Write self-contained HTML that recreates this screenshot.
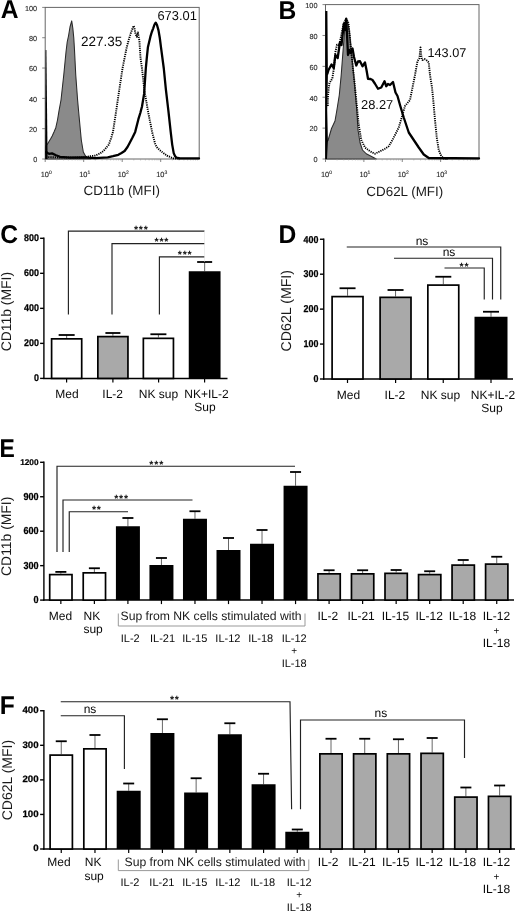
<!DOCTYPE html>
<html><head><meta charset="utf-8"><title>Figure</title>
<style>
html,body{margin:0;padding:0;background:#fff;}
svg{display:block;font-family:"Liberation Sans", sans-serif;will-change:transform;text-rendering:geometricPrecision;}
</style></head><body>
<svg width="520" height="913" viewBox="0 0 520 913">
<rect width="520" height="913" fill="#fff"/>
<text transform="translate(0.8,18.3) scale(0.955,1)" font-size="25.8" font-weight="bold" fill="#000">A</text>
<polygon points="45.5,159 45.5,146 47.5,144 50.5,139 52.2,136 54,132 55.8,127.7 57.5,120 59,110.8 61,100 63.75,75 66,52 67.2,42 68.5,36 70,27 71.7,20.9 72.8,28 73.75,37.5 74.5,50 75.75,75 77.6,100 78.5,110 79.7,123 81.3,140 83.3,152 85.5,156 88,158 91,159" fill="#8a8a8a" stroke="#2a2a2a" stroke-width="1.05" stroke-linejoin="round"/>
<rect x="45.2" y="7.4" width="154.0" height="151.6" fill="none" stroke="#666" stroke-width="1"/>
<line x1="42.2" y1="7.4" x2="45.2" y2="7.4" stroke="#666" stroke-width="0.8" />
<text x="37.2" y="10.7" font-size="7.3" text-anchor="end" font-weight="normal" fill="#2a2a2a" stroke="#2a2a2a" stroke-width="0.12">100</text>
<line x1="42.2" y1="37.72" x2="45.2" y2="37.72" stroke="#666" stroke-width="0.8" />
<text x="37.2" y="41.019999999999996" font-size="7.3" text-anchor="end" font-weight="normal" fill="#2a2a2a" stroke="#2a2a2a" stroke-width="0.12">80</text>
<line x1="42.2" y1="68.04" x2="45.2" y2="68.04" stroke="#666" stroke-width="0.8" />
<text x="37.2" y="71.34" font-size="7.3" text-anchor="end" font-weight="normal" fill="#2a2a2a" stroke="#2a2a2a" stroke-width="0.12">60</text>
<line x1="42.2" y1="98.36" x2="45.2" y2="98.36" stroke="#666" stroke-width="0.8" />
<text x="37.2" y="101.66" font-size="7.3" text-anchor="end" font-weight="normal" fill="#2a2a2a" stroke="#2a2a2a" stroke-width="0.12">40</text>
<line x1="42.2" y1="128.68" x2="45.2" y2="128.68" stroke="#666" stroke-width="0.8" />
<text x="37.2" y="131.98000000000002" font-size="7.3" text-anchor="end" font-weight="normal" fill="#2a2a2a" stroke="#2a2a2a" stroke-width="0.12">20</text>
<line x1="42.2" y1="159.0" x2="45.2" y2="159.0" stroke="#666" stroke-width="0.8" />
<text x="37.2" y="162.3" font-size="7.3" text-anchor="end" font-weight="normal" fill="#2a2a2a" stroke="#2a2a2a" stroke-width="0.12">0</text>
<line x1="45.2" y1="159" x2="45.2" y2="162" stroke="#666" stroke-width="0.8" />
<line x1="56.78965483306328" y1="159" x2="56.78965483306328" y2="160.5" stroke="#999" stroke-width="0.5" />
<line x1="63.569168306707006" y1="159" x2="63.569168306707006" y2="160.5" stroke="#999" stroke-width="0.5" />
<line x1="68.37930966612656" y1="159" x2="68.37930966612656" y2="160.5" stroke="#999" stroke-width="0.5" />
<line x1="72.11034516693672" y1="159" x2="72.11034516693672" y2="160.5" stroke="#999" stroke-width="0.5" />
<line x1="75.15882313977028" y1="159" x2="75.15882313977028" y2="160.5" stroke="#999" stroke-width="0.5" />
<line x1="77.73627454054889" y1="159" x2="77.73627454054889" y2="160.5" stroke="#999" stroke-width="0.5" />
<line x1="79.96896449918984" y1="159" x2="79.96896449918984" y2="160.5" stroke="#999" stroke-width="0.5" />
<line x1="81.93833661341401" y1="159" x2="81.93833661341401" y2="160.5" stroke="#999" stroke-width="0.5" />
<text x="40.7" y="177" font-size="7.4" fill="#2a2a2a" stroke="#2a2a2a" stroke-width="0.12">10<tspan dy="-3.2" font-size="5">0</tspan></text>
<line x1="83.7" y1="159" x2="83.7" y2="162" stroke="#666" stroke-width="0.8" />
<line x1="95.28965483306328" y1="159" x2="95.28965483306328" y2="160.5" stroke="#999" stroke-width="0.5" />
<line x1="102.06916830670701" y1="159" x2="102.06916830670701" y2="160.5" stroke="#999" stroke-width="0.5" />
<line x1="106.87930966612656" y1="159" x2="106.87930966612656" y2="160.5" stroke="#999" stroke-width="0.5" />
<line x1="110.61034516693672" y1="159" x2="110.61034516693672" y2="160.5" stroke="#999" stroke-width="0.5" />
<line x1="113.65882313977028" y1="159" x2="113.65882313977028" y2="160.5" stroke="#999" stroke-width="0.5" />
<line x1="116.23627454054889" y1="159" x2="116.23627454054889" y2="160.5" stroke="#999" stroke-width="0.5" />
<line x1="118.46896449918984" y1="159" x2="118.46896449918984" y2="160.5" stroke="#999" stroke-width="0.5" />
<line x1="120.43833661341401" y1="159" x2="120.43833661341401" y2="160.5" stroke="#999" stroke-width="0.5" />
<text x="79.2" y="177" font-size="7.4" fill="#2a2a2a" stroke="#2a2a2a" stroke-width="0.12">10<tspan dy="-3.2" font-size="5">1</tspan></text>
<line x1="122.2" y1="159" x2="122.2" y2="162" stroke="#666" stroke-width="0.8" />
<line x1="133.78965483306328" y1="159" x2="133.78965483306328" y2="160.5" stroke="#999" stroke-width="0.5" />
<line x1="140.569168306707" y1="159" x2="140.569168306707" y2="160.5" stroke="#999" stroke-width="0.5" />
<line x1="145.37930966612655" y1="159" x2="145.37930966612655" y2="160.5" stroke="#999" stroke-width="0.5" />
<line x1="149.11034516693672" y1="159" x2="149.11034516693672" y2="160.5" stroke="#999" stroke-width="0.5" />
<line x1="152.15882313977028" y1="159" x2="152.15882313977028" y2="160.5" stroke="#999" stroke-width="0.5" />
<line x1="154.7362745405489" y1="159" x2="154.7362745405489" y2="160.5" stroke="#999" stroke-width="0.5" />
<line x1="156.96896449918984" y1="159" x2="156.96896449918984" y2="160.5" stroke="#999" stroke-width="0.5" />
<line x1="158.938336613414" y1="159" x2="158.938336613414" y2="160.5" stroke="#999" stroke-width="0.5" />
<text x="117.7" y="177" font-size="7.4" fill="#2a2a2a" stroke="#2a2a2a" stroke-width="0.12">10<tspan dy="-3.2" font-size="5">2</tspan></text>
<line x1="160.7" y1="159" x2="160.7" y2="162" stroke="#666" stroke-width="0.8" />
<line x1="172.28965483306325" y1="159" x2="172.28965483306325" y2="160.5" stroke="#999" stroke-width="0.5" />
<line x1="179.06916830670698" y1="159" x2="179.06916830670698" y2="160.5" stroke="#999" stroke-width="0.5" />
<line x1="183.87930966612655" y1="159" x2="183.87930966612655" y2="160.5" stroke="#999" stroke-width="0.5" />
<line x1="187.61034516693672" y1="159" x2="187.61034516693672" y2="160.5" stroke="#999" stroke-width="0.5" />
<line x1="190.65882313977028" y1="159" x2="190.65882313977028" y2="160.5" stroke="#999" stroke-width="0.5" />
<line x1="193.2362745405489" y1="159" x2="193.2362745405489" y2="160.5" stroke="#999" stroke-width="0.5" />
<line x1="195.4689644991898" y1="159" x2="195.4689644991898" y2="160.5" stroke="#999" stroke-width="0.5" />
<line x1="197.43833661341398" y1="159" x2="197.43833661341398" y2="160.5" stroke="#999" stroke-width="0.5" />
<text x="156.2" y="177" font-size="7.4" fill="#2a2a2a" stroke="#2a2a2a" stroke-width="0.12">10<tspan dy="-3.2" font-size="5">3</tspan></text>
<text x="121.7" y="194.6" font-size="13.4" text-anchor="middle" font-weight="normal" fill="#1a1a1a" >CD11b (MFI)</text>
<polyline points="46,157 60,157.5 80,157.5 86,157 90,156.3 95,155.6 100,153.5 103.5,150.9 106.5,147.5 108.8,144.6 111,138.5 113,131.9 116.2,110.8 119.3,89.6 122.5,68.5 126.7,47.3 129,39 131,32.5 132.5,28.5 133.7,25.8 134.6,29 135.2,32.5 136.2,35.5 136.9,36.7 137.5,34 137.9,32.5 138.6,36 139.4,41 140.5,57.9 142,68.5 144.3,89.6 147.9,110.8 152.1,131.9 155.3,144.6 157.5,148 160.6,150.9 166.9,155.6 173.3,158.4 180,158.8" fill="none" stroke="#000" stroke-width="1.9" stroke-dasharray="1.2 1.0" stroke-linejoin="round"/>
<polygon points="45.2,159 45.6,50 46.4,50 47.6,159" fill="#000"/>
<polyline points="46.2,152 47.5,153 49,153.8 52,153.4 56,155.2 60,156.8 70,157.6 84,157.4 95,158.2 107.7,157.3 113,156.2 118.3,154.8 121.5,153 124.6,151 127.5,147 129.9,142.5 132.5,137.5 135.2,131.9 138.4,119.2 140.3,113 142,106.5 144.1,93.9 145.1,79 145.8,68.5 146.8,57.9 147.9,47.3 150.4,36.7 151.8,32 153.2,28.3 154.5,24.5 155.7,22.6 157,25 158.5,30.4 159.8,38 161,47.3 163.8,68.5 165.9,89.6 168.4,110.8 170.7,131.9 172.2,144.6 173.7,153.1 175,156 176.4,157.7 180,158.4 199,158.4" fill="none" stroke="#000" stroke-width="2.3" stroke-linejoin="round" stroke-linecap="round"/>
<text x="81" y="46" font-size="13.5" text-anchor="start" font-weight="normal" fill="#0a0a0a" >227.35</text>
<text x="157.4" y="20.3" font-size="12.9" text-anchor="start" font-weight="normal" fill="#0a0a0a" >673.01</text>
<text transform="translate(278.5,18.5) scale(0.955,1)" font-size="25.8" font-weight="bold" fill="#000">B</text>
<polygon points="326,159 326,142 328,140.5 331.5,128.5 335,121 336.9,110 339.3,95 341.2,75 343.1,50 344.7,30 346.25,18.75 348,24 349.5,32 351.25,50 353.75,75 355.5,95 356.75,110 358,130 360,142.5 362.5,150 366.25,153.75 372.5,157 376.25,159" fill="#8a8a8a" stroke="#2a2a2a" stroke-width="1.05" stroke-linejoin="round"/>
<rect x="325.5" y="4.6" width="153.5" height="154.4" fill="none" stroke="#666" stroke-width="1"/>
<line x1="322.5" y1="4.6" x2="325.5" y2="4.6" stroke="#666" stroke-width="0.8" />
<text x="317.5" y="7.8999999999999995" font-size="7.3" text-anchor="end" font-weight="normal" fill="#2a2a2a" stroke="#2a2a2a" stroke-width="0.12">100</text>
<line x1="322.5" y1="35.480000000000004" x2="325.5" y2="35.480000000000004" stroke="#666" stroke-width="0.8" />
<text x="317.5" y="38.78" font-size="7.3" text-anchor="end" font-weight="normal" fill="#2a2a2a" stroke="#2a2a2a" stroke-width="0.12">80</text>
<line x1="322.5" y1="66.36" x2="325.5" y2="66.36" stroke="#666" stroke-width="0.8" />
<text x="317.5" y="69.66" font-size="7.3" text-anchor="end" font-weight="normal" fill="#2a2a2a" stroke="#2a2a2a" stroke-width="0.12">60</text>
<line x1="322.5" y1="97.24000000000001" x2="325.5" y2="97.24000000000001" stroke="#666" stroke-width="0.8" />
<text x="317.5" y="100.54" font-size="7.3" text-anchor="end" font-weight="normal" fill="#2a2a2a" stroke="#2a2a2a" stroke-width="0.12">40</text>
<line x1="322.5" y1="128.12" x2="325.5" y2="128.12" stroke="#666" stroke-width="0.8" />
<text x="317.5" y="131.42000000000002" font-size="7.3" text-anchor="end" font-weight="normal" fill="#2a2a2a" stroke="#2a2a2a" stroke-width="0.12">20</text>
<line x1="322.5" y1="159.0" x2="325.5" y2="159.0" stroke="#666" stroke-width="0.8" />
<text x="317.5" y="162.3" font-size="7.3" text-anchor="end" font-weight="normal" fill="#2a2a2a" stroke="#2a2a2a" stroke-width="0.12">0</text>
<line x1="325.5" y1="159" x2="325.5" y2="162" stroke="#666" stroke-width="0.8" />
<line x1="337.05202608360526" y1="159" x2="337.05202608360526" y2="160.5" stroke="#999" stroke-width="0.5" />
<line x1="343.80952814986705" y1="159" x2="343.80952814986705" y2="160.5" stroke="#999" stroke-width="0.5" />
<line x1="348.60405216721057" y1="159" x2="348.60405216721057" y2="160.5" stroke="#999" stroke-width="0.5" />
<line x1="352.32297391639474" y1="159" x2="352.32297391639474" y2="160.5" stroke="#999" stroke-width="0.5" />
<line x1="355.3615542334723" y1="159" x2="355.3615542334723" y2="160.5" stroke="#999" stroke-width="0.5" />
<line x1="357.9306372855471" y1="159" x2="357.9306372855471" y2="160.5" stroke="#999" stroke-width="0.5" />
<line x1="360.1560782508158" y1="159" x2="360.1560782508158" y2="160.5" stroke="#999" stroke-width="0.5" />
<line x1="362.1190562997341" y1="159" x2="362.1190562997341" y2="160.5" stroke="#999" stroke-width="0.5" />
<text x="321.0" y="177" font-size="7.4" fill="#2a2a2a" stroke="#2a2a2a" stroke-width="0.12">10<tspan dy="-3.2" font-size="5">0</tspan></text>
<line x1="363.875" y1="159" x2="363.875" y2="162" stroke="#666" stroke-width="0.8" />
<line x1="375.42702608360526" y1="159" x2="375.42702608360526" y2="160.5" stroke="#999" stroke-width="0.5" />
<line x1="382.18452814986705" y1="159" x2="382.18452814986705" y2="160.5" stroke="#999" stroke-width="0.5" />
<line x1="386.97905216721057" y1="159" x2="386.97905216721057" y2="160.5" stroke="#999" stroke-width="0.5" />
<line x1="390.69797391639474" y1="159" x2="390.69797391639474" y2="160.5" stroke="#999" stroke-width="0.5" />
<line x1="393.7365542334723" y1="159" x2="393.7365542334723" y2="160.5" stroke="#999" stroke-width="0.5" />
<line x1="396.3056372855471" y1="159" x2="396.3056372855471" y2="160.5" stroke="#999" stroke-width="0.5" />
<line x1="398.5310782508158" y1="159" x2="398.5310782508158" y2="160.5" stroke="#999" stroke-width="0.5" />
<line x1="400.4940562997341" y1="159" x2="400.4940562997341" y2="160.5" stroke="#999" stroke-width="0.5" />
<text x="359.375" y="177" font-size="7.4" fill="#2a2a2a" stroke="#2a2a2a" stroke-width="0.12">10<tspan dy="-3.2" font-size="5">1</tspan></text>
<line x1="402.25" y1="159" x2="402.25" y2="162" stroke="#666" stroke-width="0.8" />
<line x1="413.80202608360526" y1="159" x2="413.80202608360526" y2="160.5" stroke="#999" stroke-width="0.5" />
<line x1="420.55952814986705" y1="159" x2="420.55952814986705" y2="160.5" stroke="#999" stroke-width="0.5" />
<line x1="425.35405216721057" y1="159" x2="425.35405216721057" y2="160.5" stroke="#999" stroke-width="0.5" />
<line x1="429.07297391639474" y1="159" x2="429.07297391639474" y2="160.5" stroke="#999" stroke-width="0.5" />
<line x1="432.1115542334723" y1="159" x2="432.1115542334723" y2="160.5" stroke="#999" stroke-width="0.5" />
<line x1="434.6806372855471" y1="159" x2="434.6806372855471" y2="160.5" stroke="#999" stroke-width="0.5" />
<line x1="436.9060782508158" y1="159" x2="436.9060782508158" y2="160.5" stroke="#999" stroke-width="0.5" />
<line x1="438.8690562997341" y1="159" x2="438.8690562997341" y2="160.5" stroke="#999" stroke-width="0.5" />
<text x="397.75" y="177" font-size="7.4" fill="#2a2a2a" stroke="#2a2a2a" stroke-width="0.12">10<tspan dy="-3.2" font-size="5">2</tspan></text>
<line x1="440.625" y1="159" x2="440.625" y2="162" stroke="#666" stroke-width="0.8" />
<line x1="452.17702608360526" y1="159" x2="452.17702608360526" y2="160.5" stroke="#999" stroke-width="0.5" />
<line x1="458.93452814986705" y1="159" x2="458.93452814986705" y2="160.5" stroke="#999" stroke-width="0.5" />
<line x1="463.72905216721057" y1="159" x2="463.72905216721057" y2="160.5" stroke="#999" stroke-width="0.5" />
<line x1="467.44797391639474" y1="159" x2="467.44797391639474" y2="160.5" stroke="#999" stroke-width="0.5" />
<line x1="470.4865542334723" y1="159" x2="470.4865542334723" y2="160.5" stroke="#999" stroke-width="0.5" />
<line x1="473.0556372855471" y1="159" x2="473.0556372855471" y2="160.5" stroke="#999" stroke-width="0.5" />
<line x1="475.2810782508158" y1="159" x2="475.2810782508158" y2="160.5" stroke="#999" stroke-width="0.5" />
<line x1="477.2440562997341" y1="159" x2="477.2440562997341" y2="160.5" stroke="#999" stroke-width="0.5" />
<text x="436.125" y="177" font-size="7.4" fill="#2a2a2a" stroke="#2a2a2a" stroke-width="0.12">10<tspan dy="-3.2" font-size="5">3</tspan></text>
<text x="404.8" y="195.6" font-size="13.4" text-anchor="middle" font-weight="normal" fill="#1a1a1a" >CD62L (MFI)</text>
<polyline points="327.8,106 328,96 328.6,89 329.5,83 332.3,78.5 333.8,69 335.4,52 337,44.6 339.2,45.4 341.5,34 343.8,23 346.2,18.5 348.5,23 350,38.5 351.5,54 353,69 354.6,83 356.25,100 358.75,125 361.25,140 365,147.5 370,151.25 375,153.75 380,151.25 385,148.75 388.75,146.25 392.5,140 396.25,132.5 398.75,127.5 401,120 405,106 407.5,103 410,100 412.5,87.5 415,75 417.5,61 419.5,58 420.5,47.5 421.5,58 422.5,60 424.5,59 426.25,60 428.75,62.5 430,75 432,87.5 433.25,100 435,120 436.75,137.5 438.75,150 441.25,156 443.75,158.5 448,159" fill="none" stroke="#000" stroke-width="1.9" stroke-dasharray="1.2 1.0" stroke-linejoin="round"/>
<polygon points="325.2,159 325.2,11 327.4,11 327.9,76 327.2,110 327.9,141 327,159" fill="#000"/>
<polyline points="327.2,74 327.6,73 328.5,70 331.5,64.5 333.8,68 335.4,55 337.7,58 340,42 341.5,45 343.8,24 344.8,30 346.2,19 347.2,38 348,55 349.5,50 350.5,53 352.5,48.5 354,57 356.25,65.5 358,61.5 360,61.25 362.5,66.25 365,62.5 366.5,70 368,78.75 370.5,79 372.5,80 375,83.75 378,88.75 381.25,87.5 384.5,81.25 386.25,86.25 388,84 390,85 393,82 395.5,92.5 397.5,96 400,105 403.75,117.5 408.75,132.5 413.75,140 418.75,147.5 423.75,154.5 428.75,158 479,158.4" fill="none" stroke="#000" stroke-width="2.3" stroke-linejoin="round" stroke-linecap="round"/>
<text x="361" y="109" font-size="12.9" text-anchor="start" font-weight="normal" fill="#0a0a0a" >28.27</text>
<text x="427.5" y="57" font-size="12.7" text-anchor="start" font-weight="normal" fill="#0a0a0a" >143.07</text>
<text transform="translate(0.3,242.5) scale(0.955,1)" font-size="25.8" font-weight="bold" fill="#000">C</text>
<line x1="43.9" y1="237.60000000000002" x2="43.9" y2="379.09999999999997" stroke="#000" stroke-width="1.4" />
<line x1="43.199999999999996" y1="378.4" x2="227.5" y2="378.4" stroke="#000" stroke-width="1.5" />
<line x1="40.1" y1="238.3" x2="43.9" y2="238.3" stroke="#000" stroke-width="1.4" />
<text transform="translate(39.0,240.8) scale(0.91,1)" font-size="9.8" font-weight="bold" text-anchor="end" fill="#000" stroke="#000" stroke-width="0.25">800</text>
<line x1="40.1" y1="273.325" x2="43.9" y2="273.325" stroke="#000" stroke-width="1.4" />
<text transform="translate(39.0,275.825) scale(0.91,1)" font-size="9.8" font-weight="bold" text-anchor="end" fill="#000" stroke="#000" stroke-width="0.25">600</text>
<line x1="40.1" y1="308.35" x2="43.9" y2="308.35" stroke="#000" stroke-width="1.4" />
<text transform="translate(39.0,310.85) scale(0.91,1)" font-size="9.8" font-weight="bold" text-anchor="end" fill="#000" stroke="#000" stroke-width="0.25">400</text>
<line x1="40.1" y1="343.375" x2="43.9" y2="343.375" stroke="#000" stroke-width="1.4" />
<text transform="translate(39.0,345.875) scale(0.91,1)" font-size="9.8" font-weight="bold" text-anchor="end" fill="#000" stroke="#000" stroke-width="0.25">200</text>
<line x1="40.1" y1="378.4" x2="43.9" y2="378.4" stroke="#000" stroke-width="1.4" />
<text transform="translate(39.0,380.9) scale(0.91,1)" font-size="9.8" font-weight="bold" text-anchor="end" fill="#000" stroke="#000" stroke-width="0.25">0</text>
<line x1="66.6" y1="378.4" x2="66.6" y2="382.4" stroke="#000" stroke-width="1.2" />
<line x1="112.9" y1="378.4" x2="112.9" y2="382.4" stroke="#000" stroke-width="1.2" />
<line x1="158.6" y1="378.4" x2="158.6" y2="382.4" stroke="#000" stroke-width="1.2" />
<line x1="204.6" y1="378.4" x2="204.6" y2="382.4" stroke="#000" stroke-width="1.2" />
<text transform="translate(11,311.6) rotate(-90)" font-size="13.9" text-anchor="middle" fill="#1a1a1a">CD11b (MFI)</text>
<line x1="66.65" y1="335" x2="66.65" y2="338" stroke="#555" stroke-width="0.9" />
<line x1="58.650000000000006" y1="335" x2="74.65" y2="335" stroke="#000" stroke-width="1.8" />
<rect x="51.6" y="338.85" width="30.1" height="39.549999999999976" fill="#fff" stroke="#000" stroke-width="1.7"/>
<line x1="112.9" y1="333" x2="112.9" y2="335.75" stroke="#555" stroke-width="0.9" />
<line x1="105.4" y1="333" x2="120.4" y2="333" stroke="#000" stroke-width="1.8" />
<rect x="97.85" y="336.6" width="30.1" height="41.799999999999976" fill="#a9a9a9" stroke="#000" stroke-width="1.7"/>
<line x1="158.4" y1="334.25" x2="158.4" y2="337.5" stroke="#555" stroke-width="0.9" />
<line x1="150.4" y1="334.25" x2="166.4" y2="334.25" stroke="#000" stroke-width="1.8" />
<rect x="143.35" y="338.35" width="30.1" height="40.049999999999976" fill="#fff" stroke="#000" stroke-width="1.7"/>
<line x1="204.65" y1="262" x2="204.65" y2="271.25" stroke="#555" stroke-width="0.9" />
<line x1="197.15" y1="262" x2="212.15" y2="262" stroke="#000" stroke-width="1.8" />
<rect x="188.75" y="271.25" width="31.8" height="107.14999999999998" fill="#000"/>
<polyline points="68.4,314.5 68.4,231.1 204.5,231.1" fill="none" stroke="#222" stroke-width="1.15"/>
<polyline points="112,314.5 112,243.6 204.5,243.6" fill="none" stroke="#222" stroke-width="1.15"/>
<polyline points="159.4,314.5 159.4,256.9 204.5,256.9" fill="none" stroke="#222" stroke-width="1.15"/>
<line x1="204.5" y1="230.75" x2="204.5" y2="262" stroke="#ddd" stroke-width="0.5" />
<text x="141.3" y="233.0" font-size="10.5" text-anchor="middle" font-weight="bold" fill="#111" letter-spacing="0.8">***</text>
<text x="161.9" y="244.70000000000002" font-size="10.5" text-anchor="middle" font-weight="bold" fill="#111" letter-spacing="0.8">***</text>
<text x="185.1" y="258.2" font-size="10.5" text-anchor="middle" font-weight="bold" fill="#111" letter-spacing="0.8">***</text>
<text x="67" y="398.2" font-size="12" text-anchor="middle" font-weight="normal" fill="#0a0a0a" >Med</text>
<text x="112.7" y="398.2" font-size="12" text-anchor="middle" font-weight="normal" fill="#0a0a0a" >IL-2</text>
<text x="158.5" y="398.2" font-size="12" text-anchor="middle" font-weight="normal" fill="#0a0a0a" >NK sup</text>
<text x="206.5" y="398.2" font-size="12" text-anchor="middle" font-weight="normal" fill="#0a0a0a" >NK+IL-2</text>
<text x="205" y="411.2" font-size="12" text-anchor="middle" font-weight="normal" fill="#0a0a0a" >Sup</text>
<text transform="translate(278.6,243.2) scale(0.955,1)" font-size="25.8" font-weight="bold" fill="#000">D</text>
<line x1="323.75" y1="238.55" x2="323.75" y2="379.7" stroke="#000" stroke-width="1.4" />
<line x1="323.05" y1="379" x2="513" y2="379" stroke="#000" stroke-width="1.5" />
<line x1="319.95" y1="239.25" x2="323.75" y2="239.25" stroke="#000" stroke-width="1.4" />
<text transform="translate(318.45,242.55) scale(0.89,1)" font-size="10" font-weight="bold" text-anchor="end" fill="#000" stroke="#000" stroke-width="0.25">400</text>
<line x1="319.95" y1="274.1875" x2="323.75" y2="274.1875" stroke="#000" stroke-width="1.4" />
<text transform="translate(318.45,277.4875) scale(0.89,1)" font-size="10" font-weight="bold" text-anchor="end" fill="#000" stroke="#000" stroke-width="0.25">300</text>
<line x1="319.95" y1="309.125" x2="323.75" y2="309.125" stroke="#000" stroke-width="1.4" />
<text transform="translate(318.45,312.425) scale(0.89,1)" font-size="10" font-weight="bold" text-anchor="end" fill="#000" stroke="#000" stroke-width="0.25">200</text>
<line x1="319.95" y1="344.0625" x2="323.75" y2="344.0625" stroke="#000" stroke-width="1.4" />
<text transform="translate(318.45,347.3625) scale(0.89,1)" font-size="10" font-weight="bold" text-anchor="end" fill="#000" stroke="#000" stroke-width="0.25">100</text>
<line x1="319.95" y1="379.0" x2="323.75" y2="379.0" stroke="#000" stroke-width="1.4" />
<text transform="translate(318.45,382.3) scale(0.89,1)" font-size="10" font-weight="bold" text-anchor="end" fill="#000" stroke="#000" stroke-width="0.25">0</text>
<line x1="347.5" y1="379" x2="347.5" y2="383" stroke="#000" stroke-width="1.2" />
<line x1="395.6" y1="379" x2="395.6" y2="383" stroke="#000" stroke-width="1.2" />
<line x1="443.25" y1="379" x2="443.25" y2="383" stroke="#000" stroke-width="1.2" />
<line x1="491" y1="379" x2="491" y2="383" stroke="#000" stroke-width="1.2" />
<text transform="translate(291,310.7) rotate(-90)" font-size="14.2" text-anchor="middle" fill="#1a1a1a">CD62L (MFI)</text>
<line x1="347.55" y1="288.25" x2="347.55" y2="295.75" stroke="#555" stroke-width="0.9" />
<line x1="339.55" y1="288.25" x2="355.55" y2="288.25" stroke="#000" stroke-width="1.8" />
<rect x="332.1" y="296.6" width="30.900000000000002" height="82.4" fill="#fff" stroke="#000" stroke-width="1.7"/>
<line x1="395.55" y1="290" x2="395.55" y2="296.5" stroke="#555" stroke-width="0.9" />
<line x1="387.55" y1="290" x2="403.55" y2="290" stroke="#000" stroke-width="1.8" />
<rect x="380.1" y="297.35" width="30.900000000000002" height="81.65" fill="#a9a9a9" stroke="#000" stroke-width="1.7"/>
<line x1="443.3" y1="276.75" x2="443.3" y2="284.25" stroke="#555" stroke-width="0.9" />
<line x1="435.3" y1="276.75" x2="451.3" y2="276.75" stroke="#000" stroke-width="1.8" />
<rect x="427.85" y="285.1" width="30.900000000000002" height="93.9" fill="#fff" stroke="#000" stroke-width="1.7"/>
<line x1="491.0" y1="311.75" x2="491.0" y2="316.75" stroke="#555" stroke-width="0.9" />
<line x1="483.0" y1="311.75" x2="499.0" y2="311.75" stroke="#000" stroke-width="1.8" />
<rect x="474.5" y="316.75" width="33.0" height="62.25" fill="#000"/>
<polyline points="346.75,247 500.75,247 500.75,299.5" fill="none" stroke="#222" stroke-width="1.15"/>
<polyline points="394,258.25 492.5,258.25 492.5,299.5" fill="none" stroke="#222" stroke-width="1.15"/>
<polyline points="444.5,268 484.25,268 484.25,299.5" fill="none" stroke="#222" stroke-width="1.15"/>
<text x="422" y="244.5" font-size="12" text-anchor="middle" font-weight="normal" fill="#0a0a0a" >ns</text>
<text x="449" y="255.75" font-size="12" text-anchor="middle" font-weight="normal" fill="#0a0a0a" >ns</text>
<text x="464.4" y="270.09999999999997" font-size="10.5" text-anchor="middle" font-weight="bold" fill="#111" letter-spacing="0.8">**</text>
<text x="348.4" y="399" font-size="12" text-anchor="middle" font-weight="normal" fill="#0a0a0a" >Med</text>
<text x="394.9" y="399" font-size="12" text-anchor="middle" font-weight="normal" fill="#0a0a0a" >IL-2</text>
<text x="440.4" y="399" font-size="12" text-anchor="middle" font-weight="normal" fill="#0a0a0a" >NK sup</text>
<text x="493" y="399" font-size="12" text-anchor="middle" font-weight="normal" fill="#0a0a0a" >NK+IL-2</text>
<text x="492" y="412" font-size="12" text-anchor="middle" font-weight="normal" fill="#0a0a0a" >Sup</text>
<text transform="translate(-0.6,457.1) scale(0.89,1)" font-size="25.8" font-weight="bold" fill="#000">E</text>
<line x1="43.9" y1="461.6" x2="43.9" y2="600.8000000000001" stroke="#000" stroke-width="1.4" />
<line x1="43.199999999999996" y1="600.1" x2="514" y2="600.1" stroke="#000" stroke-width="1.5" />
<line x1="40.1" y1="462.3" x2="43.9" y2="462.3" stroke="#000" stroke-width="1.4" />
<text transform="translate(38.6,464.8) scale(1.0,1)" font-size="8.3" font-weight="bold" text-anchor="end" fill="#000" stroke="#000" stroke-width="0.2">1200</text>
<line x1="40.1" y1="496.75" x2="43.9" y2="496.75" stroke="#000" stroke-width="1.4" />
<text transform="translate(38.6,499.95) scale(0.9,1)" font-size="10.1" font-weight="bold" text-anchor="end" fill="#000" stroke="#000" stroke-width="0.25">900</text>
<line x1="40.1" y1="531.2" x2="43.9" y2="531.2" stroke="#000" stroke-width="1.4" />
<text transform="translate(38.6,534.4000000000001) scale(0.9,1)" font-size="10.1" font-weight="bold" text-anchor="end" fill="#000" stroke="#000" stroke-width="0.25">600</text>
<line x1="40.1" y1="565.65" x2="43.9" y2="565.65" stroke="#000" stroke-width="1.4" />
<text transform="translate(38.6,568.85) scale(0.9,1)" font-size="10.1" font-weight="bold" text-anchor="end" fill="#000" stroke="#000" stroke-width="0.25">300</text>
<line x1="40.1" y1="600.1" x2="43.9" y2="600.1" stroke="#000" stroke-width="1.4" />
<text transform="translate(38.6,603.3000000000001) scale(0.9,1)" font-size="10.1" font-weight="bold" text-anchor="end" fill="#000" stroke="#000" stroke-width="0.25">0</text>
<line x1="60.85" y1="600.1" x2="60.85" y2="604.1" stroke="#000" stroke-width="1.2" />
<line x1="94.38" y1="600.1" x2="94.38" y2="604.1" stroke="#000" stroke-width="1.2" />
<line x1="127.91" y1="600.1" x2="127.91" y2="604.1" stroke="#000" stroke-width="1.2" />
<line x1="161.44" y1="600.1" x2="161.44" y2="604.1" stroke="#000" stroke-width="1.2" />
<line x1="194.97" y1="600.1" x2="194.97" y2="604.1" stroke="#000" stroke-width="1.2" />
<line x1="228.5" y1="600.1" x2="228.5" y2="604.1" stroke="#000" stroke-width="1.2" />
<line x1="262.03000000000003" y1="600.1" x2="262.03000000000003" y2="604.1" stroke="#000" stroke-width="1.2" />
<line x1="295.56" y1="600.1" x2="295.56" y2="604.1" stroke="#000" stroke-width="1.2" />
<line x1="329.09000000000003" y1="600.1" x2="329.09000000000003" y2="604.1" stroke="#000" stroke-width="1.2" />
<line x1="362.62" y1="600.1" x2="362.62" y2="604.1" stroke="#000" stroke-width="1.2" />
<line x1="396.15000000000003" y1="600.1" x2="396.15000000000003" y2="604.1" stroke="#000" stroke-width="1.2" />
<line x1="429.68000000000006" y1="600.1" x2="429.68000000000006" y2="604.1" stroke="#000" stroke-width="1.2" />
<line x1="463.21000000000004" y1="600.1" x2="463.21000000000004" y2="604.1" stroke="#000" stroke-width="1.2" />
<line x1="496.74" y1="600.1" x2="496.74" y2="604.1" stroke="#000" stroke-width="1.2" />
<text transform="translate(11,536.3) rotate(-90)" font-size="13.9" text-anchor="middle" fill="#1a1a1a">CD11b (MFI)</text>
<line x1="60.85" y1="571.9" x2="60.85" y2="573.75" stroke="#555" stroke-width="0.9" />
<line x1="55.35" y1="571.9" x2="66.35" y2="571.9" stroke="#000" stroke-width="1.8" />
<rect x="49.7" y="574.6" width="22.3" height="25.50000000000002" fill="#fff" stroke="#000" stroke-width="1.7"/>
<line x1="94.38" y1="568.25" x2="94.38" y2="572" stroke="#555" stroke-width="0.9" />
<line x1="88.88" y1="568.25" x2="99.88" y2="568.25" stroke="#000" stroke-width="1.8" />
<rect x="83.22999999999999" y="572.85" width="22.3" height="27.25000000000002" fill="#fff" stroke="#000" stroke-width="1.7"/>
<line x1="127.91" y1="518" x2="127.91" y2="526.25" stroke="#555" stroke-width="0.9" />
<line x1="122.41" y1="518" x2="133.41" y2="518" stroke="#000" stroke-width="1.8" />
<rect x="115.91" y="526.25" width="24" height="73.85000000000002" fill="#000"/>
<line x1="161.44" y1="558" x2="161.44" y2="565" stroke="#555" stroke-width="0.9" />
<line x1="155.94" y1="558" x2="166.94" y2="558" stroke="#000" stroke-width="1.8" />
<rect x="149.44" y="565" width="24" height="35.10000000000002" fill="#000"/>
<line x1="194.97" y1="511.25" x2="194.97" y2="518.75" stroke="#555" stroke-width="0.9" />
<line x1="189.47" y1="511.25" x2="200.47" y2="511.25" stroke="#000" stroke-width="1.8" />
<rect x="182.97" y="518.75" width="24" height="81.35000000000002" fill="#000"/>
<line x1="228.5" y1="538" x2="228.5" y2="550" stroke="#555" stroke-width="0.9" />
<line x1="223.0" y1="538" x2="234.0" y2="538" stroke="#000" stroke-width="1.8" />
<rect x="216.5" y="550" width="24" height="50.10000000000002" fill="#000"/>
<line x1="262.03" y1="530" x2="262.03" y2="543.75" stroke="#555" stroke-width="0.9" />
<line x1="256.53" y1="530" x2="267.53" y2="530" stroke="#000" stroke-width="1.8" />
<rect x="250.03" y="543.75" width="24" height="56.35000000000002" fill="#000"/>
<line x1="295.56" y1="472" x2="295.56" y2="485.75" stroke="#555" stroke-width="0.9" />
<line x1="290.06" y1="472" x2="301.06" y2="472" stroke="#000" stroke-width="1.8" />
<rect x="283.56" y="485.75" width="24" height="114.35000000000002" fill="#000"/>
<line x1="329.09" y1="570.25" x2="329.09" y2="573" stroke="#555" stroke-width="0.9" />
<line x1="323.59" y1="570.25" x2="334.59" y2="570.25" stroke="#000" stroke-width="1.8" />
<rect x="317.94" y="573.85" width="22.3" height="26.25000000000002" fill="#a9a9a9" stroke="#000" stroke-width="1.7"/>
<line x1="362.62" y1="570.25" x2="362.62" y2="573" stroke="#555" stroke-width="0.9" />
<line x1="357.12" y1="570.25" x2="368.12" y2="570.25" stroke="#000" stroke-width="1.8" />
<rect x="351.47" y="573.85" width="22.3" height="26.25000000000002" fill="#a9a9a9" stroke="#000" stroke-width="1.7"/>
<line x1="396.15" y1="570" x2="396.15" y2="572.5" stroke="#555" stroke-width="0.9" />
<line x1="390.65" y1="570" x2="401.65" y2="570" stroke="#000" stroke-width="1.8" />
<rect x="385.0" y="573.35" width="22.3" height="26.75000000000002" fill="#a9a9a9" stroke="#000" stroke-width="1.7"/>
<line x1="429.68" y1="571.25" x2="429.68" y2="573.75" stroke="#555" stroke-width="0.9" />
<line x1="424.18" y1="571.25" x2="435.18" y2="571.25" stroke="#000" stroke-width="1.8" />
<rect x="418.53000000000003" y="574.6" width="22.3" height="25.50000000000002" fill="#a9a9a9" stroke="#000" stroke-width="1.7"/>
<line x1="463.21" y1="560" x2="463.21" y2="564.25" stroke="#555" stroke-width="0.9" />
<line x1="457.71" y1="560" x2="468.71" y2="560" stroke="#000" stroke-width="1.8" />
<rect x="452.06" y="565.1" width="22.3" height="35.00000000000002" fill="#a9a9a9" stroke="#000" stroke-width="1.7"/>
<line x1="496.74" y1="556.75" x2="496.74" y2="563.25" stroke="#555" stroke-width="0.9" />
<line x1="491.24" y1="556.75" x2="502.24" y2="556.75" stroke="#000" stroke-width="1.8" />
<rect x="485.59000000000003" y="564.1" width="22.3" height="36.00000000000002" fill="#a9a9a9" stroke="#000" stroke-width="1.7"/>
<polyline points="57,552 57,466.25 295,466.25" fill="none" stroke="#222" stroke-width="1.15"/>
<polyline points="63,552 63,500 192.5,500" fill="none" stroke="#222" stroke-width="1.15"/>
<polyline points="69.25,552 69.25,511.75 128,511.75" fill="none" stroke="#222" stroke-width="1.15"/>
<text x="156.7" y="467.59999999999997" font-size="10.5" text-anchor="middle" font-weight="bold" fill="#111" letter-spacing="0.8">***</text>
<text x="121.5" y="501.7" font-size="10.5" text-anchor="middle" font-weight="bold" fill="#111" letter-spacing="0.8">***</text>
<text x="96.8" y="512.6" font-size="10.5" text-anchor="middle" font-weight="bold" fill="#111" letter-spacing="0.8">**</text>
<text x="60.4" y="619.5" font-size="12" text-anchor="middle" font-weight="normal" fill="#0a0a0a" >Med</text>
<text x="91.9" y="619.5" font-size="12" text-anchor="middle" font-weight="normal" fill="#0a0a0a" >NK</text>
<text x="93.1" y="633.0" font-size="12" text-anchor="middle" font-weight="normal" fill="#0a0a0a" >sup</text>
<text x="120.6" y="619.7" font-size="12.2" textLength="181" lengthAdjust="spacing" fill="#1a1a1a">Sup from NK cells stimulated with</text>
<polyline points="118.3,613.5 118.3,626.0 305,626.0 305,613.5" fill="none" stroke="#999" stroke-width="1"/>
<text x="130.2" y="641.7" font-size="11" text-anchor="middle" font-weight="normal" fill="#0a0a0a" >IL-2</text>
<text x="327.8" y="619.5" font-size="12" text-anchor="middle" font-weight="normal" fill="#0a0a0a" >IL-2</text>
<text x="162.5" y="641.7" font-size="11" text-anchor="middle" font-weight="normal" fill="#0a0a0a" >IL-21</text>
<text x="361.1" y="619.5" font-size="12" text-anchor="middle" font-weight="normal" fill="#0a0a0a" >IL-21</text>
<text x="194.8" y="641.7" font-size="11" text-anchor="middle" font-weight="normal" fill="#0a0a0a" >IL-15</text>
<text x="395.4" y="619.5" font-size="12" text-anchor="middle" font-weight="normal" fill="#0a0a0a" >IL-15</text>
<text x="227.9" y="641.7" font-size="11" text-anchor="middle" font-weight="normal" fill="#0a0a0a" >IL-12</text>
<text x="429.2" y="619.5" font-size="12" text-anchor="middle" font-weight="normal" fill="#0a0a0a" >IL-12</text>
<text x="260.7" y="641.7" font-size="11" text-anchor="middle" font-weight="normal" fill="#0a0a0a" >IL-18</text>
<text x="462.5" y="619.5" font-size="12" text-anchor="middle" font-weight="normal" fill="#0a0a0a" >IL-18</text>
<text x="294.2" y="641.7" font-size="11" text-anchor="middle" font-weight="normal" fill="#0a0a0a" >IL-12</text>
<text x="294.2" y="653.8" font-size="10" text-anchor="middle" font-weight="normal" fill="#0a0a0a" >+</text>
<text x="294.2" y="667.1" font-size="11" text-anchor="middle" font-weight="normal" fill="#0a0a0a" >IL-18</text>
<text x="496.4" y="619.5" font-size="12" text-anchor="middle" font-weight="normal" fill="#0a0a0a" >IL-12</text>
<text x="496.4" y="633.5" font-size="10" text-anchor="middle" font-weight="normal" fill="#0a0a0a" >+</text>
<text x="496.4" y="647.3" font-size="12" text-anchor="middle" font-weight="normal" fill="#0a0a0a" >IL-18</text>
<text transform="translate(-0.3,714) scale(0.955,1)" font-size="25.8" font-weight="bold" fill="#000">F</text>
<line x1="43.9" y1="710.05" x2="43.9" y2="849.7" stroke="#000" stroke-width="1.4" />
<line x1="43.199999999999996" y1="849" x2="515" y2="849" stroke="#000" stroke-width="1.5" />
<line x1="40.1" y1="710.75" x2="43.9" y2="710.75" stroke="#000" stroke-width="1.4" />
<text transform="translate(38.6,713.15) scale(1.04,1)" font-size="9.3" font-weight="bold" text-anchor="end" fill="#000" stroke="#000" stroke-width="0.25">400</text>
<line x1="40.1" y1="745.3125" x2="43.9" y2="745.3125" stroke="#000" stroke-width="1.4" />
<text transform="translate(38.6,747.7125) scale(1.04,1)" font-size="9.3" font-weight="bold" text-anchor="end" fill="#000" stroke="#000" stroke-width="0.25">300</text>
<line x1="40.1" y1="779.875" x2="43.9" y2="779.875" stroke="#000" stroke-width="1.4" />
<text transform="translate(38.6,782.275) scale(1.04,1)" font-size="9.3" font-weight="bold" text-anchor="end" fill="#000" stroke="#000" stroke-width="0.25">200</text>
<line x1="40.1" y1="814.4375" x2="43.9" y2="814.4375" stroke="#000" stroke-width="1.4" />
<text transform="translate(38.6,816.8375) scale(1.04,1)" font-size="9.3" font-weight="bold" text-anchor="end" fill="#000" stroke="#000" stroke-width="0.25">100</text>
<line x1="40.1" y1="849.0" x2="43.9" y2="849.0" stroke="#000" stroke-width="1.4" />
<text transform="translate(38.6,851.4) scale(1.04,1)" font-size="9.3" font-weight="bold" text-anchor="end" fill="#000" stroke="#000" stroke-width="0.25">0</text>
<line x1="61.25" y1="849" x2="61.25" y2="853" stroke="#000" stroke-width="1.2" />
<line x1="94.97" y1="849" x2="94.97" y2="853" stroke="#000" stroke-width="1.2" />
<line x1="128.69" y1="849" x2="128.69" y2="853" stroke="#000" stroke-width="1.2" />
<line x1="162.41" y1="849" x2="162.41" y2="853" stroke="#000" stroke-width="1.2" />
<line x1="196.13" y1="849" x2="196.13" y2="853" stroke="#000" stroke-width="1.2" />
<line x1="229.85" y1="849" x2="229.85" y2="853" stroke="#000" stroke-width="1.2" />
<line x1="263.57" y1="849" x2="263.57" y2="853" stroke="#000" stroke-width="1.2" />
<line x1="297.28999999999996" y1="849" x2="297.28999999999996" y2="853" stroke="#000" stroke-width="1.2" />
<line x1="331.01" y1="849" x2="331.01" y2="853" stroke="#000" stroke-width="1.2" />
<line x1="364.73" y1="849" x2="364.73" y2="853" stroke="#000" stroke-width="1.2" />
<line x1="398.45" y1="849" x2="398.45" y2="853" stroke="#000" stroke-width="1.2" />
<line x1="432.16999999999996" y1="849" x2="432.16999999999996" y2="853" stroke="#000" stroke-width="1.2" />
<line x1="465.89" y1="849" x2="465.89" y2="853" stroke="#000" stroke-width="1.2" />
<line x1="499.61" y1="849" x2="499.61" y2="853" stroke="#000" stroke-width="1.2" />
<text transform="translate(11.6,780.1) rotate(-90)" font-size="14" text-anchor="middle" fill="#1a1a1a">CD62L (MFI)</text>
<line x1="61.25" y1="741.25" x2="61.25" y2="754.25" stroke="#555" stroke-width="0.9" />
<line x1="55.75" y1="741.25" x2="66.75" y2="741.25" stroke="#000" stroke-width="1.8" />
<rect x="50.1" y="755.1" width="22.3" height="93.9" fill="#fff" stroke="#000" stroke-width="1.7"/>
<line x1="94.97" y1="735" x2="94.97" y2="748" stroke="#555" stroke-width="0.9" />
<line x1="89.47" y1="735" x2="100.47" y2="735" stroke="#000" stroke-width="1.8" />
<rect x="83.82" y="748.85" width="22.3" height="100.15" fill="#fff" stroke="#000" stroke-width="1.7"/>
<line x1="128.69" y1="783.5" x2="128.69" y2="790.75" stroke="#555" stroke-width="0.9" />
<line x1="123.19" y1="783.5" x2="134.19" y2="783.5" stroke="#000" stroke-width="1.8" />
<rect x="116.69" y="790.75" width="24" height="58.25" fill="#000"/>
<line x1="162.41" y1="719.25" x2="162.41" y2="733" stroke="#555" stroke-width="0.9" />
<line x1="156.91" y1="719.25" x2="167.91" y2="719.25" stroke="#000" stroke-width="1.8" />
<rect x="150.41" y="733" width="24" height="116" fill="#000"/>
<line x1="196.13" y1="778.25" x2="196.13" y2="792.5" stroke="#555" stroke-width="0.9" />
<line x1="190.63" y1="778.25" x2="201.63" y2="778.25" stroke="#000" stroke-width="1.8" />
<rect x="184.13" y="792.5" width="24" height="56.5" fill="#000"/>
<line x1="229.85" y1="723.25" x2="229.85" y2="734.25" stroke="#555" stroke-width="0.9" />
<line x1="224.35" y1="723.25" x2="235.35" y2="723.25" stroke="#000" stroke-width="1.8" />
<rect x="217.85" y="734.25" width="24" height="114.75" fill="#000"/>
<line x1="263.57" y1="773.75" x2="263.57" y2="784.25" stroke="#555" stroke-width="0.9" />
<line x1="258.07" y1="773.75" x2="269.07" y2="773.75" stroke="#000" stroke-width="1.8" />
<rect x="251.57" y="784.25" width="24" height="64.75" fill="#000"/>
<line x1="297.29" y1="829.5" x2="297.29" y2="831.75" stroke="#555" stroke-width="0.9" />
<line x1="291.79" y1="829.5" x2="302.79" y2="829.5" stroke="#000" stroke-width="1.8" />
<rect x="285.29" y="831.75" width="24" height="17.25" fill="#000"/>
<line x1="331.01" y1="738.75" x2="331.01" y2="753" stroke="#555" stroke-width="0.9" />
<line x1="325.51" y1="738.75" x2="336.51" y2="738.75" stroke="#000" stroke-width="1.8" />
<rect x="319.86" y="753.85" width="22.3" height="95.15" fill="#a9a9a9" stroke="#000" stroke-width="1.7"/>
<line x1="364.73" y1="738.75" x2="364.73" y2="753" stroke="#555" stroke-width="0.9" />
<line x1="359.23" y1="738.75" x2="370.23" y2="738.75" stroke="#000" stroke-width="1.8" />
<rect x="353.58000000000004" y="753.85" width="22.3" height="95.15" fill="#a9a9a9" stroke="#000" stroke-width="1.7"/>
<line x1="398.45" y1="739.25" x2="398.45" y2="753" stroke="#555" stroke-width="0.9" />
<line x1="392.95" y1="739.25" x2="403.95" y2="739.25" stroke="#000" stroke-width="1.8" />
<rect x="387.3" y="753.85" width="22.3" height="95.15" fill="#a9a9a9" stroke="#000" stroke-width="1.7"/>
<line x1="432.17" y1="738" x2="432.17" y2="752.5" stroke="#555" stroke-width="0.9" />
<line x1="426.67" y1="738" x2="437.67" y2="738" stroke="#000" stroke-width="1.8" />
<rect x="421.02000000000004" y="753.35" width="22.3" height="95.65" fill="#a9a9a9" stroke="#000" stroke-width="1.7"/>
<line x1="465.89" y1="787.5" x2="465.89" y2="796.25" stroke="#555" stroke-width="0.9" />
<line x1="460.39" y1="787.5" x2="471.39" y2="787.5" stroke="#000" stroke-width="1.8" />
<rect x="454.74" y="797.1" width="22.3" height="51.9" fill="#a9a9a9" stroke="#000" stroke-width="1.7"/>
<line x1="499.61" y1="785.5" x2="499.61" y2="795.5" stroke="#555" stroke-width="0.9" />
<line x1="494.11" y1="785.5" x2="505.11" y2="785.5" stroke="#000" stroke-width="1.8" />
<rect x="488.46000000000004" y="796.35" width="22.3" height="52.65" fill="#a9a9a9" stroke="#000" stroke-width="1.7"/>
<polyline points="60.75,701.75 290,701.75 291.6,809.3" fill="none" stroke="#222" stroke-width="1.15"/>
<polyline points="60.75,715.75 124.4,715.75 124.4,769" fill="none" stroke="#222" stroke-width="1.15"/>
<polyline points="300.5,809.3 300.5,720 464.5,720 464.5,758" fill="none" stroke="#222" stroke-width="1.15"/>
<text x="90" y="713" font-size="12" text-anchor="middle" font-weight="normal" fill="#0a0a0a" >ns</text>
<text x="174.8" y="703.15" font-size="10.5" text-anchor="middle" font-weight="bold" fill="#111" letter-spacing="0.8">**</text>
<text x="380.8" y="716.8" font-size="12" text-anchor="middle" font-weight="normal" fill="#0a0a0a" >ns</text>
<text x="58.9" y="866.3" font-size="12" text-anchor="middle" font-weight="normal" fill="#0a0a0a" >Med</text>
<text x="93.1" y="866.3" font-size="12" text-anchor="middle" font-weight="normal" fill="#0a0a0a" >NK</text>
<text x="94.1" y="880.28" font-size="12" text-anchor="middle" font-weight="normal" fill="#0a0a0a" >sup</text>
<text x="124.6" y="865.7" font-size="12.2" textLength="181" lengthAdjust="spacing" fill="#1a1a1a">Sup from NK cells stimulated with</text>
<polyline points="118.3,859.5 118.3,870.5999999999999 308.8,870.5999999999999 308.8,859.5" fill="none" stroke="#999" stroke-width="1"/>
<text x="130" y="885.5" font-size="11" text-anchor="middle" font-weight="normal" fill="#0a0a0a" >IL-2</text>
<text x="328.2" y="865.5" font-size="12" text-anchor="middle" font-weight="normal" fill="#0a0a0a" >IL-2</text>
<text x="161.9" y="885.5" font-size="11" text-anchor="middle" font-weight="normal" fill="#0a0a0a" >IL-21</text>
<text x="361.9" y="865.5" font-size="12" text-anchor="middle" font-weight="normal" fill="#0a0a0a" >IL-21</text>
<text x="194.8" y="885.5" font-size="11" text-anchor="middle" font-weight="normal" fill="#0a0a0a" >IL-15</text>
<text x="395.8" y="865.5" font-size="12" text-anchor="middle" font-weight="normal" fill="#0a0a0a" >IL-15</text>
<text x="227.9" y="885.5" font-size="11" text-anchor="middle" font-weight="normal" fill="#0a0a0a" >IL-12</text>
<text x="429.2" y="865.5" font-size="12" text-anchor="middle" font-weight="normal" fill="#0a0a0a" >IL-12</text>
<text x="262.7" y="885.5" font-size="11" text-anchor="middle" font-weight="normal" fill="#0a0a0a" >IL-18</text>
<text x="462.5" y="865.5" font-size="12" text-anchor="middle" font-weight="normal" fill="#0a0a0a" >IL-18</text>
<text x="299.2" y="885.5" font-size="11" text-anchor="middle" font-weight="normal" fill="#0a0a0a" >IL-12</text>
<text x="299.2" y="897.5999999999999" font-size="10" text-anchor="middle" font-weight="normal" fill="#0a0a0a" >+</text>
<text x="299.2" y="910.9" font-size="11" text-anchor="middle" font-weight="normal" fill="#0a0a0a" >IL-18</text>
<text x="496.4" y="865.5" font-size="12" text-anchor="middle" font-weight="normal" fill="#0a0a0a" >IL-12</text>
<text x="496.4" y="879.5" font-size="10" text-anchor="middle" font-weight="normal" fill="#0a0a0a" >+</text>
<text x="496.4" y="893.3" font-size="12" text-anchor="middle" font-weight="normal" fill="#0a0a0a" >IL-18</text>
</svg>
</body></html>
